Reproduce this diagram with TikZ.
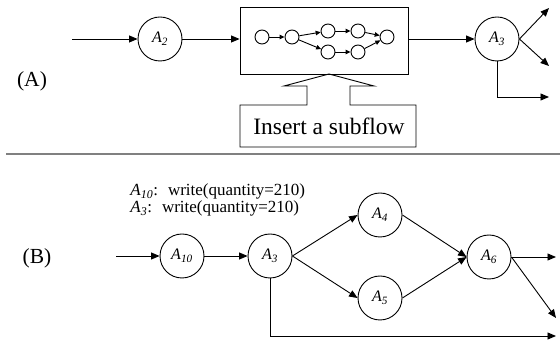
\documentclass[tikz,border=0pt]{standalone}
\usepackage{fontspec}
\setmainfont{Liberation Serif}
\usetikzlibrary{arrows.meta}
\newcommand{\myAct}[1]{\textit{A}\textsubscript{\textit{#1}}}
\tikzset{
  act/.style={draw, circle, minimum size=44pt, inner sep=0pt, font=\fontsize{16}{18}\selectfont},
  sub/.style={draw, circle, minimum size=14pt, inner sep=0pt},
  flow/.style={-{Triangle[length=8.5pt,width=7pt]}},
  subflow/.style={-{Triangle[length=5pt,width=4.5pt]}},
  biglabel/.style={font=\fontsize{21.5}{24}\selectfont},
  note/.style={anchor=base west, inner sep=0pt, font=\fontsize{17}{19}\selectfont}
}

\begin{document}
\begin{tikzpicture}[x=1pt, y=-1pt, line width=0.9pt]
	\useasboundingbox (0,0) rectangle (560,344);
	% part (A)
	\node[biglabel] (labA) at (32,81) {(A)};
	\coordinate (inA) at (72,39);
	\node[act] (A2) at (160,39) {\myAct{2}};
	\node[draw, minimum width=168pt, minimum height=67pt, inner sep=0pt] (box) at (324,40.5) {};
	\node[act] (A3a) at (497,39) {\myAct{3}};
	\coordinate (outA1) at (549,8);
	\coordinate (outA2) at (549,66);
	\coordinate (outA3) at (549,97);
	% drawing the subflow inside the box
	\foreach \n/\x/\y in {s1/262/37, s2/292/37, s3/328/31, s4/358/31, s5/328/52, s6/358/52, s7/387/37}
		\node[sub] (\n) at (\x,\y) {};
	\foreach \a/\b in {s1/s2, s2/s3, s2/s5, s3/s4, s5/s6, s4/s7, s6/s7}
		\draw[subflow] (\a) -- (\b);
	% drawing the flow arrows
	\draw[flow] (inA) -- (A2);
	\draw[flow] (A2) -- (A2 -| box.west);
	\draw[flow] (A3a -| box.east) -- (A3a);
	\draw[flow] (A3a.east) -- (outA1);
	\draw[flow] (A3a.east) -- (outA2);
	\draw[flow] (A3a.south) |- (outA3);
	% insert callout
	\node[font=\fontsize{23.5}{26}\selectfont] (ins) at (329,126) {Insert a subflow};
	\draw (240,105) -- (307,105) -- (307,86) -- (284,86) -- (329,74) -- (374,86)
		-- (350,86) -- (350,105) -- (416,105) -- (416,147) -- (240,147) -- cycle;
	% separator
	\draw[gray, line width=1.6pt] (6,154) -- (560,154);
	% part (B)
	\node[biglabel] (labB) at (37,258) {(B)};
	\node[note] (note1) at (130,196) {\myAct{10}:\hspace{10pt}write(quantity=210)};
	\node[note] (note2) at (130,213) {\myAct{3}:\hspace{10pt}write(quantity=210)};
	\coordinate (inB) at (116,256);
	\node[act] (A10) at (182,256) {\myAct{10}};
	\node[act] (A3b) at (270,256) {\myAct{3}};
	\node[act] (A4) at (380,215) {\myAct{4}};
	\node[act] (A5) at (380,298) {\myAct{5}};
	\node[act] (A6) at (489,257) {\myAct{6}};
	\coordinate (outB1) at (556,257);
	\coordinate (outB2) at (556,318);
	\coordinate (outB3) at (556,336);
	% drawing the flow arrows
	\draw[flow] (inB) -- (A10);
	\draw[flow] (A10) -- (A3b);
	\draw[flow] (A3b.east) -- (A4.west);
	\draw[flow] (A3b.east) -- (A5.west);
	\draw[flow] (A4.east) -- (A6.west);
	\draw[flow] (A5.east) -- (A6.west);
	\draw[flow] (A6.east) -- (outB1);
	\draw[flow] (A6.east) -- (outB2);
	\draw[flow] (A3b.south) |- (outB3);
\end{tikzpicture}
\end{document}
